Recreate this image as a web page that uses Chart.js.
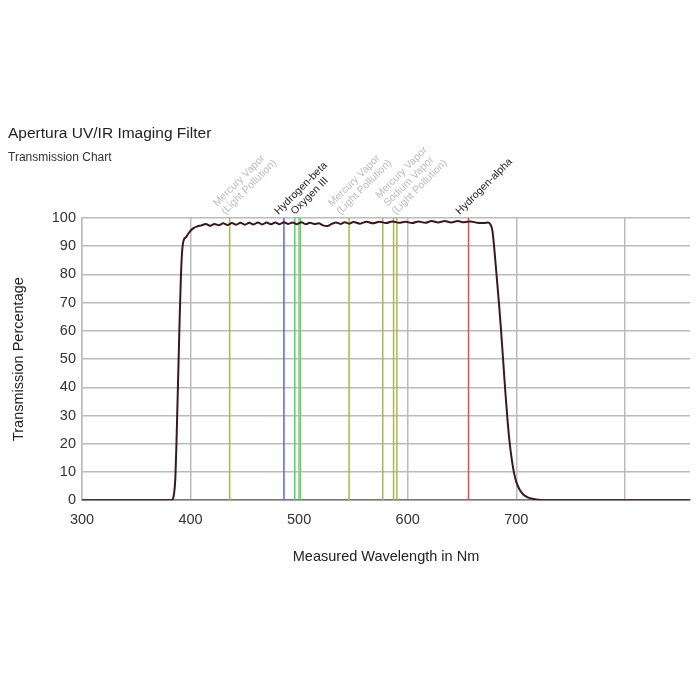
<!DOCTYPE html>
<html>
<head>
<meta charset="utf-8">
<script src="https://cdn.jsdelivr.net/npm/chart.js@4"></script>
<style>
  body { margin: 0; background: #fff; font-family: "Liberation Sans", Arial, sans-serif; }
  #wrap { position: relative; width: 700px; height: 700px; }
  #title { position: absolute; left: 8px; top: 125px; font-size: 15.5px; color: #222; line-height: 1; }
  #subtitle { position: absolute; left: 8px; top: 151px; font-size: 12px; color: #333; line-height: 1; }
</style>
</head>
<body>
<div id="wrap">
  <canvas id="chart" width="700" height="700"></canvas>
  <div id="title">Apertura UV/IR Imaging Filter</div>
  <div id="subtitle">Transmission Chart</div>
</div>
<script>
// Transmission curve
const wavelength = [300, 382, 384, 385, 386, 387, 388, 389, 390, 391, 392, 393, 394, 396, 398, 400, 403, 406,
  410, 414, 418, 422, 426, 430, 434, 438, 442, 446, 450, 454, 458, 462, 466, 470, 474, 478, 482, 486,
  490, 494, 498, 502, 506, 510, 514, 518, 522, 526, 530, 534, 538, 542, 546, 550, 556, 562, 568, 574,
  580, 586, 592, 598, 604, 610, 616, 622, 628, 634, 640, 646, 652, 658, 664, 670, 674, 676, 678, 680,
  682, 684, 686, 688, 690, 692, 694, 696, 698, 700, 703, 706, 710, 715, 720, 728, 860];
const transmission = [0, 0, 0.8, 3, 8, 20, 35, 50, 65, 78, 87, 91, 92.5, 93.3, 94.5, 95.5, 96.5, 97,
  97.4, 97.9, 97.2, 97.9, 97.4, 98.1, 97.5, 98.2, 97.6, 98.3, 97.6, 98.3, 97.7, 98.4, 97.7, 98.4, 97.8, 98.4, 97.8, 98.5,
  97.9, 98.4, 97.8, 98.5, 97.8, 98.3, 97.9, 98.1, 97.4, 97.2, 97.9, 98.4, 97.9, 98.5, 98.0, 98.6, 98.0, 98.7, 98.1, 98.7,
  98.2, 98.8, 98.3, 98.7, 98.2, 98.8, 98.3, 98.9, 98.4, 98.9, 98.4, 98.9, 98.5, 98.8, 98.3, 98.2, 98.4, 97.8, 95.5, 88,
  79, 70, 60, 49, 38, 28, 20, 14, 9.5, 6.5, 3.8, 2.2, 1.1, 0.5, 0.2, 0, 0];

// Emission lines
const lineWavelengths = [436, 486, 496, 501, 546, 577, 587, 590, 656];
const lineColors = ['#a9b94c', '#5a63f0', '#44e044', '#44e044', '#a9b94c', '#a9b94c', '#a9b94c', '#a9b94c', '#f04a4a'];

// Rotated labels above the lines
const labelAt = [432, 481, 496, 538, 589, 648];
const labelTexts = [
  ['Mercury Vapor', '(Light Pollution)'],
  ['Hydrogen-beta'],
  ['Oxygen III'],
  ['Mercury Vapor', '(Light Pollution)'],
  ['Mercury Vapor', 'Sodium Vapor', '(Light Pollution)'],
  ['Hydrogen-alpha']
];
const labelColors = ['#bdbdbd', '#222', '#222', '#bdbdbd', '#bdbdbd', '#222'];

const xTicks = [300, 400, 500, 600, 700];

const FONT = '"Liberation Sans", Arial, sans-serif';

const datasets = [{
  data: wavelength.map((w, i) => ({ x: w, y: transmission[i] })),
  borderColor: '#3a1820',
  borderWidth: 2,
  pointRadius: 0,
  cubicInterpolationMode: 'monotone',
}];
lineWavelengths.forEach((w, i) => {
  datasets.push({
    data: [{ x: w, y: 0 }, { x: w, y: 100 }],
    borderColor: lineColors[i],
    borderWidth: 1.5,
    pointRadius: 0,
  });
});

const lineLabels = {
  id: 'lineLabels',
  afterDatasetsDraw(chart) {
    const { ctx, chartArea, scales } = chart;
    ctx.save();
    ctx.font = '10.5px ' + FONT;
    ctx.textAlign = 'left';
    ctx.textBaseline = 'alphabetic';
    labelAt.forEach((nm, i) => {
      const lines = labelTexts[i];
      ctx.save();
      ctx.translate(scales.x.getPixelForValue(nm), chartArea.top - 3);
      ctx.rotate(-Math.PI / 4);
      ctx.fillStyle = labelColors[i];
      lines.forEach((t, j) => ctx.fillText(t, 0, (j - (lines.length - 1)) * 11.5));
      ctx.restore();
    });
    ctx.restore();
  }
};

new Chart(document.getElementById('chart'), {
  type: 'line',
  data: { datasets },
  options: {
    responsive: false,
    animation: false,
    layout: { padding: { top: 218, right: 10, left: 0, bottom: 130 } },
    plugins: { legend: { display: false }, tooltip: { enabled: false } },
    scales: {
      x: {
        type: 'linear', min: 300, max: 860,
        afterBuildTicks: s => { s.ticks = s.ticks.filter(t => t.value <= 800); },
        ticks: { stepSize: 100, color: '#333', font: { size: 14.5, family: FONT }, padding: 11,
          callback: v => xTicks.includes(v) ? String(v) : '' },
        grid: { color: '#bbbbbb', lineWidth: 1.5, drawTicks: false },
        border: { color: '#777', width: 1.5 },
        title: { display: true, text: 'Measured Wavelength in Nm', color: '#222',
          font: { size: 14.5, family: FONT }, padding: { top: 9, bottom: 4 } }
      },
      y: {
        min: 0, max: 100,
        afterFit: s => { s.width = 82; },
        ticks: { stepSize: 10, color: '#333', font: { size: 14.5, family: FONT }, padding: 6 },
        grid: { color: '#bbbbbb', lineWidth: 1.5, drawTicks: false },
        border: { color: '#bbbbbb', width: 1.5 },
        title: { display: true, text: 'Transmission Percentage', color: '#222',
          font: { size: 14.5, family: FONT }, padding: { top: 10, bottom: 0 } }
      }
    }
  },
  plugins: [lineLabels]
});
</script>
</body>
</html>
